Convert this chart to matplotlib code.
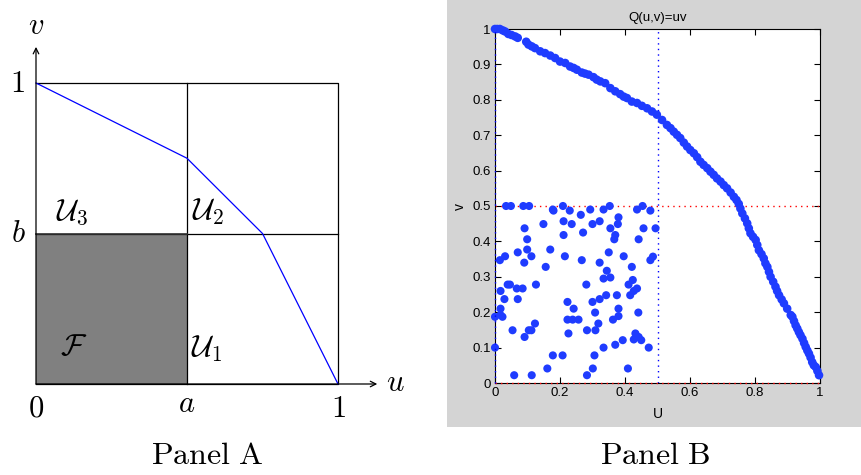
import numpy as np
import matplotlib.pyplot as plt
from matplotlib.patches import Rectangle

plt.rcParams["mathtext.fontset"] = "cm"

# Painel A: cantos da fronteira (poligonal azul)
a, b = 0.5, 0.5
front_u = [0.0, 0.5, 0.75, 1.0]
front_v = [1.0, 0.75, 0.5, 0.0]

# Painel B: pontos da fronteira
curva_u = [0.000, 0.007, 0.015, 0.024, 0.031, 0.041, 0.051, 0.062, 0.070, 0.096,
           0.103, 0.113, 0.123, 0.139, 0.154, 0.170, 0.185, 0.200, 0.216, 0.231,
           0.242, 0.252, 0.267, 0.277, 0.288, 0.303, 0.313, 0.324, 0.339, 0.355,
           0.370, 0.385, 0.396, 0.406, 0.421, 0.437, 0.452, 0.468, 0.483, 0.498,
           0.514, 0.529, 0.540, 0.550, 0.560, 0.570, 0.581, 0.591, 0.601, 0.612,
           0.622, 0.632, 0.642, 0.653, 0.663, 0.673, 0.683, 0.694, 0.704, 0.714,
           0.725, 0.735, 0.743, 0.750, 0.755, 0.761, 0.769, 0.776, 0.781, 0.786,
           0.794, 0.802, 0.807, 0.812, 0.820, 0.827, 0.832, 0.838, 0.843, 0.848,
           0.856, 0.863, 0.868, 0.874, 0.882, 0.889, 0.899, 0.910, 0.915, 0.920,
           0.925, 0.930, 0.935, 0.940, 0.946, 0.951, 0.956, 0.961, 0.966, 0.971,
           0.976, 0.981, 0.987, 0.992, 0.997]
curva_v = [1.000, 1.000, 1.000, 0.996, 0.993, 0.986, 0.983, 0.979, 0.975, 0.964,
           0.956, 0.951, 0.946, 0.937, 0.932, 0.925, 0.918, 0.908, 0.904, 0.894,
           0.890, 0.885, 0.877, 0.874, 0.871, 0.864, 0.857, 0.852, 0.847, 0.833,
           0.824, 0.816, 0.809, 0.805, 0.795, 0.791, 0.783, 0.776, 0.767, 0.758,
           0.743, 0.729, 0.720, 0.710, 0.701, 0.692, 0.679, 0.668, 0.658, 0.649,
           0.638, 0.625, 0.616, 0.607, 0.597, 0.588, 0.578, 0.569, 0.559, 0.550,
           0.538, 0.526, 0.517, 0.506, 0.493, 0.479, 0.465, 0.451, 0.437, 0.423,
           0.413, 0.404, 0.390, 0.375, 0.364, 0.352, 0.338, 0.328, 0.314, 0.300,
           0.286, 0.272, 0.260, 0.248, 0.236, 0.225, 0.210, 0.192, 0.187, 0.175,
           0.163, 0.154, 0.144, 0.135, 0.125, 0.113, 0.102, 0.092, 0.083, 0.072,
           0.059, 0.050, 0.045, 0.034, 0.022]

# Painel B: pontos dentro de [0, a] x [0, b]
nuvem_u = [0.034, 0.049, 0.087, 0.105, 0.178, 0.209, 0.293, 0.334, 0.353, 0.437,
           0.454, 0.180, 0.230, 0.478, 0.264, 0.149, 0.211, 0.236, 0.300, 0.322,
           0.355, 0.380, 0.378, 0.091, 0.457, 0.494, 0.211, 0.271, 0.370, 0.367,
           0.099, 0.442, 0.070, 0.099, 0.112, 0.170, 0.215, 0.350, 0.396, 0.031,
           0.015, 0.267, 0.478, 0.486, 0.090, 0.322, 0.156, 0.421, 0.344, 0.334,
           0.355, 0.039, 0.046, 0.126, 0.281, 0.411, 0.067, 0.085, 0.437, 0.427,
           0.017, 0.029, 0.070, 0.322, 0.342, 0.375, 0.416, 0.424, 0.300, 0.223,
           0.242, 0.017, 0.017, 0.000, 0.023, 0.308, 0.380, 0.380, 0.441, 0.223,
           0.239, 0.257, 0.363, 0.123, 0.318, 0.054, 0.104, 0.112, 0.283, 0.309,
           0.226, 0.091, 0.432, 0.442, 0.427, 0.450, 0.393, 0.370, 0.334, 0.473,
           0.000, 0.178, 0.208, 0.306, 0.161, 0.301, 0.409, 0.059, 0.113, 0.283]
nuvem_v = [0.500, 0.500, 0.500, 0.500, 0.490, 0.500, 0.490, 0.490, 0.500, 0.490,
           0.500, 0.487, 0.487, 0.487, 0.475, 0.449, 0.457, 0.449, 0.449, 0.457,
           0.437, 0.468, 0.449, 0.437, 0.437, 0.437, 0.418, 0.425, 0.418, 0.406,
           0.406, 0.406, 0.369, 0.377, 0.358, 0.377, 0.358, 0.369, 0.358, 0.358,
           0.347, 0.347, 0.347, 0.357, 0.340, 0.340, 0.328, 0.328, 0.317, 0.295,
           0.298, 0.278, 0.278, 0.278, 0.278, 0.278, 0.267, 0.267, 0.267, 0.260,
           0.260, 0.237, 0.237, 0.237, 0.248, 0.248, 0.248, 0.291, 0.229, 0.229,
           0.210, 0.210, 0.192, 0.187, 0.187, 0.199, 0.210, 0.189, 0.199, 0.179,
           0.179, 0.179, 0.179, 0.168, 0.168, 0.149, 0.149, 0.149, 0.149, 0.149,
           0.140, 0.130, 0.140, 0.130, 0.123, 0.121, 0.121, 0.108, 0.100, 0.100,
           0.100, 0.078, 0.078, 0.078, 0.041, 0.041, 0.041, 0.022, 0.022, 0.022]

W, H = 861, 475
fig = plt.figure(figsize=(W / 100, H / 100), dpi=100)

# ---------- Painel A ----------
axA = fig.add_axes([0, 0, 430 / W, 1])
axA.set_xlim(-36 / 302, (430 - 36) / 302)
axA.set_ylim((384 - 475) / 301, 384 / 301)
axA.axis("off")

axA.add_patch(Rectangle((0, 0), a, b, facecolor="#808080", edgecolor="none"))
lw = 0.9
axA.plot([0, 1, 1, 0], [1, 1, 0, 0], color="black", lw=lw)
axA.plot([a, a], [0, 1], color="black", lw=lw)
axA.plot([0, 1], [b, b], color="black", lw=lw)
axA.plot([0, a], [b, b], color="#333333", lw=1.2)
axA.annotate("", xy=(1.13, 0), xytext=(0, 0),
             arrowprops=dict(arrowstyle="->", lw=lw, color="black", shrinkA=0, shrinkB=0))
axA.annotate("", xy=(0, 1.12), xytext=(0, 0),
             arrowprops=dict(arrowstyle="->", lw=lw, color="black", shrinkA=0, shrinkB=0))
axA.plot(front_u, front_v, color="blue", lw=lw)

fs = 22
axA.text(0, 1.19, "$v$", fontsize=fs, ha="center", va="center")
axA.text(1.19, 0.005, "$u$", fontsize=fs, ha="center", va="center")
axA.text(-0.063, 1.0, "$1$", fontsize=fs, ha="center", va="center")
axA.text(-0.06, 0.5, "$b$", fontsize=fs, ha="center", va="center")
axA.text(0, -0.08, "$0$", fontsize=fs, ha="center", va="center")
axA.text(a, -0.065, "$a$", fontsize=fs, ha="center", va="center")
axA.text(1, -0.08, "$1$", fontsize=fs, ha="center", va="center")
axA.text(0.119, 0.571, r"$\mathcal{U}_3$", fontsize=fs, ha="center", va="center")
axA.text(0.57, 0.571, r"$\mathcal{U}_2$", fontsize=fs, ha="center", va="center")
axA.text(0.125, 0.126, r"$\mathcal{F}$", fontsize=fs, ha="center", va="center")
axA.text(0.567, 0.116, r"$\mathcal{U}_1$", fontsize=fs, ha="center", va="center")
fig.text(207 / W, (H - 455) / H, r"$\mathrm{Panel\ A}$", fontsize=23, ha="center", va="center")
fig.text(655 / W, (H - 455) / H, r"$\mathrm{Panel\ B}$", fontsize=23, ha="center", va="center")

# ---------- Painel B ----------
fig.patches.append(Rectangle((447 / W, (H - 427) / H), (W - 447) / W, 427 / H,
                             transform=fig.transFigure, facecolor="#d4d4d4",
                             edgecolor="none", zorder=-1))
axB = fig.add_axes([495 / W, (H - 383) / H, 325 / W, 354 / H])
axB.set_xlim(0, 1)
axB.set_ylim(0, 1)
azul = "#1f3cff"
axB.plot([0, 1], [b, b], color="red", lw=1, ls=(0, (1, 3)))
axB.plot([a, a], [0, 1], color="blue", lw=1, ls=(0, (1, 3)))
axB.plot([0, 1], [0, 0], color="red", lw=1, ls=(0, (1, 3)), clip_on=False, zorder=5)
axB.plot([0, 0], [0, 1], color="blue", lw=1, ls=(0, (1, 3)), clip_on=False, zorder=5)
axB.scatter(curva_u, curva_v, s=38, color=azul, edgecolors="none", clip_on=False, zorder=3)
axB.scatter(nuvem_u, nuvem_v, s=34, color=azul, edgecolors="none", clip_on=False, zorder=3)

fB = "Liberation Sans"
axB.set_xticks(np.arange(0, 1.01, 0.2))
axB.set_yticks(np.arange(0, 1.01, 0.1))
axB.set_xticklabels(["0", "0.2", "0.4", "0.6", "0.8", "1"], family=fB, fontsize=9.5)
axB.set_yticklabels(["0", "0.1", "0.2", "0.3", "0.4", "0.5", "0.6", "0.7", "0.8", "0.9", "1"],
                    family=fB, fontsize=9.5)
axB.tick_params(direction="in", top=True, right=True, length=4, width=0.8, pad=3)
axB.set_title("Q(u,v)=uv", family=fB, fontsize=9.5, pad=6)
axB.set_xlabel("U", family=fB, fontsize=10, labelpad=6)
axB.set_ylabel("v", family=fB, fontsize=10, labelpad=4)
for sp in axB.spines.values():
    sp.set_linewidth(0.8)

fig.savefig("out.png", dpi=100)
